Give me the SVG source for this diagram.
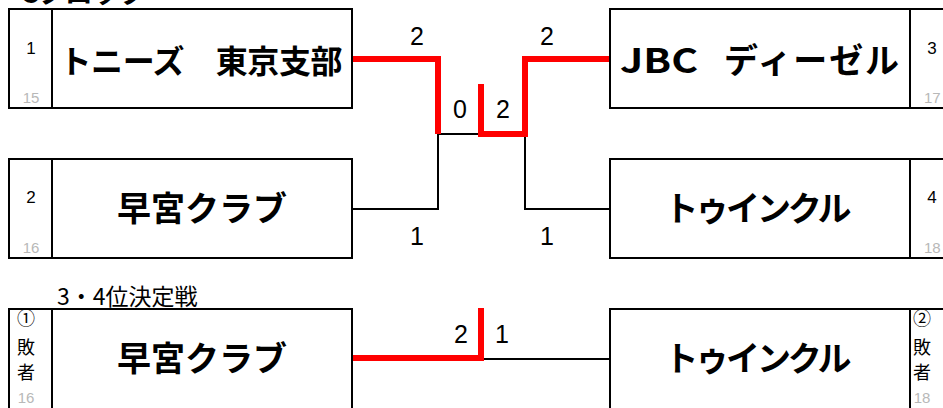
<svg xmlns="http://www.w3.org/2000/svg" width="943" height="408" viewBox="0 0 943 408">
<style>
.box{fill:#fff;stroke:#000;stroke-width:2}
.div{stroke:#000;stroke-width:2}
.name{font-family:"Noto Sans CJK JP","Noto Sans",sans-serif;font-weight:700;fill:#000;text-anchor:middle}
.seed{font-family:"Liberation Sans",Arial,sans-serif;font-size:17px;fill:#000;text-anchor:middle}
.gid{font-family:"Liberation Sans",Arial,sans-serif;font-size:15px;fill:#b8b8b8;text-anchor:middle}
.side{font-family:"Noto Sans CJK JP",sans-serif;font-size:18px;fill:#000;text-anchor:middle}
.score{font-family:"Liberation Sans",Arial,sans-serif;font-size:25px;fill:#000;text-anchor:middle}
.red{fill:none;stroke:#ff0000;stroke-width:6;stroke-linejoin:miter}
.blk{fill:none;stroke:#000;stroke-width:2}
</style>
<text x="20" y="3" font-family="Noto Sans CJK JP,sans-serif" font-weight="700" font-size="28" textLength="127">Cブロック</text>

<g id="connectors">
<path class="blk" d="M352,209 H438 V134 H481"/>
<path class="blk" d="M525,134 V209 H610"/>
<path class="blk" d="M481,359 H610"/>
<path class="red" d="M352,59 H438 V134"/>
<path class="red" d="M610,59 H525 V134 H481 V84"/>
<path class="red" d="M352,358 H481 V308"/>
<text class="score" x="417" y="45">2</text>
<text class="score" x="547" y="45">2</text>
<text class="score" x="460" y="118">0</text>
<text class="score" x="503" y="118">2</text>
<text class="score" x="417" y="245">1</text>
<text class="score" x="547" y="245">1</text>
<text class="score" x="461" y="343">2</text>
<text class="score" x="502" y="343">1</text>
</g>

<g id="team1">
<rect class="box" x="9" y="9" width="343" height="99"/>
<line class="div" x1="52" y1="9" x2="52" y2="108"/>
<text class="seed" x="31" y="54">1</text>
<text class="gid" x="31" y="103">15</text>
<text class="name" x="201" y="73" font-size="32" textLength="283">トニーズ　東京支部</text>
</g>

<g id="team2">
<rect class="box" x="9" y="159" width="343" height="99"/>
<line class="div" x1="52" y1="159" x2="52" y2="258"/>
<text class="seed" x="31" y="203">2</text>
<text class="gid" x="31" y="253">16</text>
<text class="name" x="202" y="221" font-size="34" textLength="170">早宮クラブ</text>
</g>

<g id="team3">
<rect class="box" x="610" y="9" width="400" height="99"/>
<line class="div" x1="910" y1="9" x2="910" y2="108"/>
<text class="seed" x="932" y="54">3</text>
<text class="gid" x="924" y="103" style="text-anchor:start">17</text>
<text class="name" y="73" font-size="34" style="text-anchor:start"><tspan x="620" textLength="78" lengthAdjust="spacingAndGlyphs">JBC</tspan>　<tspan x="724" textLength="175">ディーゼル</tspan></text>
</g>

<g id="team4">
<rect class="box" x="610" y="159" width="400" height="99"/>
<line class="div" x1="910" y1="159" x2="910" y2="258"/>
<text class="seed" x="932" y="203">4</text>
<text class="gid" x="924" y="253" style="text-anchor:start">18</text>
<text class="name" x="758" y="221" font-size="34" textLength="187">トゥインクル</text>
</g>

<g id="third-place-label">
<text x="57" y="305" font-family="Noto Sans CJK JP,sans-serif" font-size="23">3・4位決定戦</text>
</g>

<g id="team5">
<rect class="box" x="9" y="309" width="343" height="120"/>
<line class="div" x1="52" y1="309" x2="52" y2="410"/>
<text class="side" x="26" y="325">①</text>
<text class="side" x="26" y="354">敗</text>
<text class="side" x="26" y="379">者</text>
<text class="gid" x="26" y="403">16</text>
<text class="name" x="202" y="371" font-size="34" textLength="170">早宮クラブ</text>
</g>

<g id="team6">
<rect class="box" x="610" y="309" width="400" height="120"/>
<line class="div" x1="910" y1="309" x2="910" y2="410"/>
<text class="side" x="922" y="325">②</text>
<text class="side" x="922" y="354">敗</text>
<text class="side" x="922" y="379">者</text>
<text class="gid" x="922" y="403">18</text>
<text class="name" x="758" y="371" font-size="34" textLength="187">トゥインクル</text>
</g>
</svg>
